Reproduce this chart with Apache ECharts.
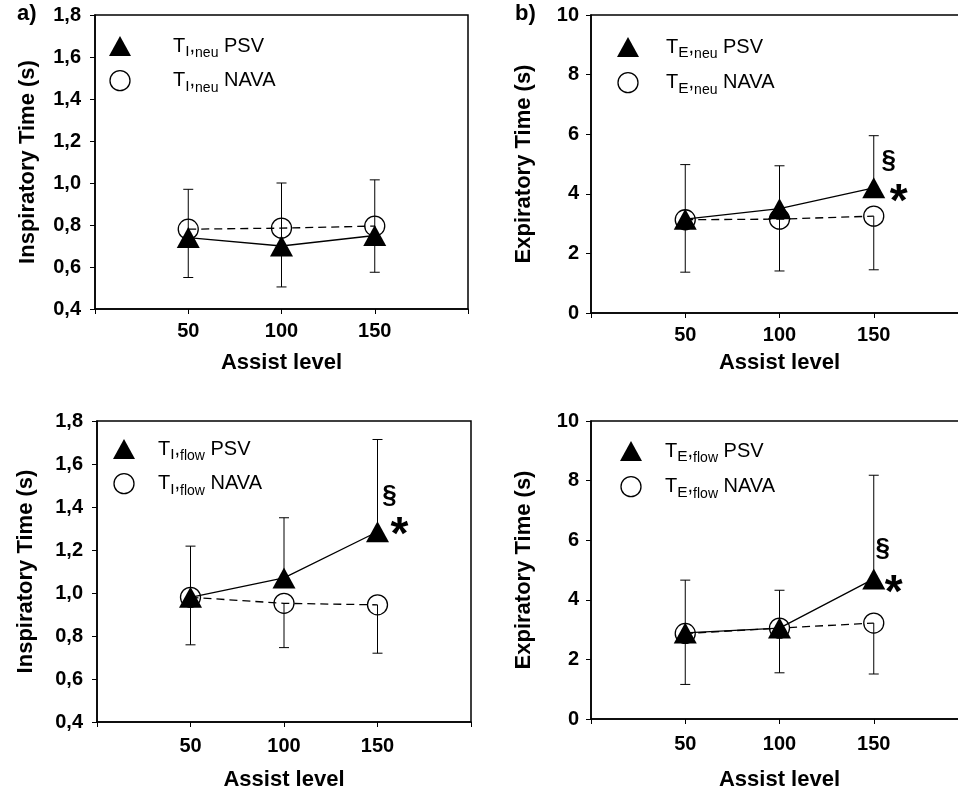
<!DOCTYPE html>
<html>
<head>
<meta charset="utf-8">
<script src="https://cdn.jsdelivr.net/npm/echarts@6/dist/echarts.min.js"></script>
<style>
  html, body { margin: 0; padding: 0; background: #fff; }
  #chart { width: 958px; height: 791px; }
</style>
</head>
<body>
<div id="chart"></div>
<script>
// assist levels (x)
const assistLevels = [50, 100, 150];

// a) inspiratory time, neural
const tiNeuPsv = [0.74, 0.70, 0.75];
const tiNeuNava = [0.78, 0.785, 0.795];
const tiNeuPsvHigh = [0.97, 1.0, 1.015];
const tiNeuNavaLow = [0.55, 0.505, 0.575];

// b) expiratory time, neural
const teNeuPsv = [3.15, 3.5, 4.2];
const teNeuNava = [3.13, 3.15, 3.25];
const teNeuPsvHigh = [4.98, 4.94, 5.95];
const teNeuNavaLow = [1.37, 1.41, 1.45];

// c) inspiratory time, flow
const tiFlowPsv = [0.98, 1.07, 1.285];
const tiFlowNava = [0.98, 0.952, 0.945];
const tiFlowPsvHigh = [1.218, 1.35, 1.714];
const tiFlowNavaLow = [0.759, 0.746, 0.72];

// d) expiratory time, flow
const teFlowPsv = [2.89, 3.05, 4.7];
const teFlowNava = [2.87, 3.05, 3.22];
const teFlowPsvHigh = [4.66, 4.32, 8.18];
const teFlowNavaLow = [1.16, 1.55, 1.51];

const xTicks = [0, 50, 100, 150, 200];
const tiTicks = [0.4, 1.8, 0.2];   // min, max, step
const teTicks = [0, 10, 2];

const FONT = "Liberation Sans, Arial, sans-serif";

const panels = [
  { tag: "a)", letter: "I", sub: "neu", yName: "Inspiratory Time (s)", ticks: tiTicks,
    psv: tiNeuPsv, nava: tiNeuNava, high: tiNeuPsvHigh, low: tiNeuNavaLow, sig: false,
    grid: { left: 95, top: 15, width: 373, height: 294 },
    yGap: 56, xGap: 43, xMargin: 12, yMargin: 14,
    legend: { left: 109, top: 36, gap: 10, textGap: 37 } },
  { tag: "b)", letter: "E", sub: "neu", yName: "Expiratory Time (s)", ticks: teTicks,
    psv: teNeuPsv, nava: teNeuNava, high: teNeuPsvHigh, low: teNeuNavaLow, sig: true,
    sigOff: { sec: [15, -27], star: [25, 4] },
    grid: { left: 591, top: 15, width: 377, height: 298 },
    yGap: 56, xGap: 39, xMargin: 12, yMargin: 12,
    legend: { left: 617, top: 37, gap: 11, textGap: 22 } },
  { tag: "", letter: "I", sub: "flow", yName: "Inspiratory Time (s)", ticks: tiTicks,
    psv: tiFlowPsv, nava: tiFlowNava, high: tiFlowPsvHigh, low: tiFlowNavaLow, sig: true,
    sigOff: { sec: [12, -36], star: [22, -6] },
    grid: { left: 97, top: 421, width: 374, height: 301 },
    yGap: 60, xGap: 47, xMargin: 14, yMargin: 14,
    legend: { left: 113, top: 439, gap: 10, textGap: 18 } },
  { tag: "", letter: "E", sub: "flow", yName: "Expiratory Time (s)", ticks: teTicks,
    psv: teFlowPsv, nava: teFlowNava, high: teFlowPsvHigh, low: teFlowNavaLow, sig: true,
    sigOff: { sec: [9, -30], star: [20, 4] },
    grid: { left: 591, top: 421, width: 377, height: 298 },
    yGap: 56, xGap: 50, xMargin: 15, yMargin: 12,
    legend: { left: 620, top: 441, gap: 11, textGap: 18 } },
];

function errorBar(params, api) {
  const x = api.value(0);
  const a = api.coord([x, api.value(1)]);
  const b = api.coord([x, api.value(2)]);
  const half = 5;
  const st = { stroke: "#000", lineWidth: 1 };
  return {
    type: "group",
    children: [
      { type: "line", shape: { x1: a[0], y1: a[1], x2: b[0], y2: b[1] }, style: st },
      { type: "line", shape: { x1: b[0] - half, y1: b[1], x2: b[0] + half, y2: b[1] }, style: st },
    ],
  };
}

const chart = echarts.init(document.getElementById("chart"));

const grid = [], xAxis = [], yAxis = [], series = [], legend = [], title = [];

panels.forEach((p, i) => {
  grid.push(Object.assign({
    show: true, borderColor: "#000", borderWidth: 1.5, backgroundColor: "transparent",
    containLabel: false, outerBoundsMode: "none",
  }, p.grid));

  xAxis.push({
    gridIndex: i, type: "value", min: xTicks[0], max: xTicks[xTicks.length - 1], interval: 50,
    name: "Assist level", nameLocation: "middle", nameGap: p.xGap,
    nameTextStyle: { fontFamily: FONT, fontWeight: "bold", fontSize: 22, color: "#000" },
    axisLine: { lineStyle: { color: "#000", width: 1.5 } },
    axisTick: { show: true, inside: false, length: 5, lineStyle: { color: "#000", width: 1 } },
    axisLabel: {
      margin: p.xMargin, fontFamily: FONT, fontWeight: "bold", fontSize: 20, color: "#000",
      formatter: (v) => (v === 0 || v === 200 ? "" : String(v)),
    },
    splitLine: { show: false },
  });

  yAxis.push({
    gridIndex: i, type: "value", min: p.ticks[0], max: p.ticks[1], interval: p.ticks[2],
    name: p.yName, nameLocation: "middle", nameGap: p.yGap, nameRotate: 90,
    nameTextStyle: { fontFamily: FONT, fontWeight: "bold", fontSize: 22, color: "#000" },
    axisLine: { show: true, lineStyle: { color: "#000", width: 1.5 } },
    axisTick: { show: true, inside: false, length: 5, lineStyle: { color: "#000", width: 1 } },
    axisLabel: {
      margin: p.yMargin, fontFamily: FONT, fontWeight: "bold", fontSize: 20, color: "#000",
      formatter: (v) => (p.ticks[2] < 1 ? v.toFixed(1).replace(".", ",") : String(Math.round(v))),
    },
    splitLine: { show: false },
  });

  const psvName = "T" + p.letter + "," + p.sub + " PSV";
  const navaName = "T" + p.letter + "," + p.sub + " NAVA";

  series.push({
    type: "custom", xAxisIndex: i, yAxisIndex: i, z: 1, silent: true,
    renderItem: errorBar, encode: { x: 0, y: [1, 2] },
    data: assistLevels.map((x, k) => [x, p.psv[k], p.high[k]]),
  });
  series.push({
    type: "custom", xAxisIndex: i, yAxisIndex: i, z: 1, silent: true,
    renderItem: errorBar, encode: { x: 0, y: [1, 2] },
    data: assistLevels.map((x, k) => [x, p.nava[k], p.low[k]]),
  });
  series.push({
    name: navaName, type: "line", xAxisIndex: i, yAxisIndex: i, z: 3,
    symbol: "circle", symbolSize: 20,
    itemStyle: { color: "rgba(0,0,0,0)", borderColor: "#000", borderWidth: 1.3 },
    lineStyle: { color: "#000", width: 1.3, type: [8, 5] },
    data: assistLevels.map((x, k) => [x, p.nava[k]]),
  });
  series.push({
    name: psvName, type: "line", xAxisIndex: i, yAxisIndex: i, z: 4,
    symbol: "triangle", symbolSize: [23, 21],
    itemStyle: { color: "#000", borderWidth: 0 },
    lineStyle: { color: "#000", width: 1.3 },
    data: assistLevels.map((x, k) => [x, p.psv[k]]),
  });

  legend.push({
    orient: "vertical", left: p.legend.left, top: p.legend.top, itemGap: p.legend.gap,
    itemWidth: 22, itemHeight: 20, selectedMode: false, padding: 0,
    data: [
      { name: psvName, icon: "triangle", itemStyle: { color: "#000", borderWidth: 0 } },
      { name: navaName, icon: "circle", itemStyle: { color: "rgba(0,0,0,0)", borderColor: "#000", borderWidth: 1.3 } },
    ],
    formatter: (name) => {
      const m = name.match(/^T(\w),(\w+) (\w+)$/);
      return "{g|}{t|T}{c|" + m[1] + "}{t|,}{s|" + m[2] + "}{t| " + m[3] + "}";
    },
    textStyle: {
      fontFamily: FONT, color: "#000",
      rich: {
        g: { width: p.legend.textGap },
        t: { fontFamily: FONT, fontSize: 20, lineHeight: 28, verticalAlign: "middle", color: "#000" },
        c: { fontFamily: FONT, fontSize: 15.5, lineHeight: 27, verticalAlign: "bottom", color: "#000" },
        s: { fontFamily: FONT, fontSize: 14, lineHeight: 14, verticalAlign: "bottom", color: "#000" },
      },
    },
  });
});

title.push({ text: "a)", left: 17, top: 3, padding: 0,
  textStyle: { fontFamily: FONT, fontWeight: "bold", fontSize: 22, color: "#000" } });
title.push({ text: "b)", left: 515, top: 3, padding: 0,
  textStyle: { fontFamily: FONT, fontWeight: "bold", fontSize: 22, color: "#000" } });

chart.setOption({
  animation: false,
  backgroundColor: "#fff",
  title, grid, xAxis, yAxis, legend, series,
});

// significance marks next to the PSV point at assist level 150
const graphic = [];
panels.forEach((p, i) => {
  if (!p.sig) return;
  const k = assistLevels.length - 1;
  const pt = chart.convertToPixel({ gridIndex: i }, [assistLevels[k], p.psv[k]]);
  graphic.push({
    type: "text", x: pt[0] + p.sigOff.sec[0], y: pt[1] + p.sigOff.sec[1],
    style: { text: "§", font: "bold 26px " + FONT, fill: "#000", align: "center", verticalAlign: "middle" },
  });
  graphic.push({
    type: "text", x: pt[0] + p.sigOff.star[0], y: pt[1] + p.sigOff.star[1] + 11,
    style: { text: "*", font: "bold 46px " + FONT, fill: "#000", align: "center", verticalAlign: "middle" },
  });
});
chart.setOption({ graphic });
</script>
</body>
</html>
